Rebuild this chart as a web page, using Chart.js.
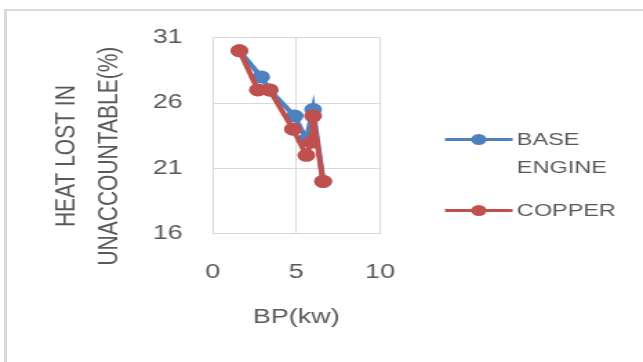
<!DOCTYPE html>
<html>
<head>
<meta charset="utf-8">
<script src="https://cdn.jsdelivr.net/npm/chart.js@4/dist/chart.umd.min.js"></script>
<style>
  html, body { margin: 0; padding: 0; background: #ffffff; overflow: hidden; }
  body { width: 643px; height: 362px; position: relative; }
  #frame {
    position: absolute; left: 4px; top: 9px; width: 700px; height: 400px;
    border-top: 2px solid #d9d9d9; border-left: 3px solid #d9d9d9;
  }
  /* the chart is laid out narrow and widened horizontally */
  #stretch {
    position: absolute; left: 0; top: 0; width: 466px; height: 362px;
    transform: scaleX(1.3798); transform-origin: 0 0;
  }
</style>
</head>
<body>
<div id="frame"></div>
<div id="stretch"><canvas id="chart" width="466" height="362"></canvas></div>
<script>
// BP (kW) against heat lost in unaccountable (%)
const seriesNames = ['BASE ENGINE', 'COPPER'];
const legendLines = [['BASE', 'ENGINE'], ['COPPER']];
const baseBP   = [1.6, 2.9, 3.4, 4.9, 5.6, 6.0, 6.6];
const baseHeat = [30, 28, 27, 25, 23.2, 25.5, 20];
const copperBP   = [1.6, 2.7, 3.4, 4.8, 5.6, 5.9, 6.0, 6.6];
const copperHeat = [30, 27, 27, 24, 22, 23, 25, 20];
const xTicks = [0, 5, 10];
const yTicks = [16, 21, 26, 31];
const xTitle = 'BP(kw)';
const yTitle = ['HEAT LOST IN', 'UNACCOUNTABLE(%)'];

const colors = ['#4f81bd', '#c0504d'];
const textColor = '#595959';
const gridColor = '#d9d9d9';
const FONT = '"Liberation Sans", Arial, sans-serif';

function toPoints(xs, ys) {
  return xs.map((x, i) => ({ x: x, y: ys[i] }));
}

// legend drawn to the right of the plot: line with a dot, then the name
const sideLegend = {
  id: 'sideLegend',
  afterDraw(chart) {
    const ctx = chart.ctx;
    const rows = [139.5, 210.5];
    ctx.save();
    chart.data.datasets.forEach((ds, i) => {
      const y = rows[i];
      ctx.strokeStyle = ds.borderColor;
      ctx.lineWidth = 3;
      ctx.beginPath();
      ctx.moveTo(322.5, y);
      ctx.lineTo(371.5, y);
      ctx.stroke();
      ctx.fillStyle = ds.backgroundColor;
      ctx.beginPath();
      ctx.arc(347, y, 5.5, 0, Math.PI * 2);
      ctx.fill();
      ctx.fillStyle = textColor;
      ctx.font = '17px ' + FONT;
      ctx.textBaseline = 'middle';
      ctx.textAlign = 'left';
      legendLines[i].forEach((line, k) => {
        ctx.fillText(line, 374.6, y + 0.5 + k * 28.5);
      });
    });
    ctx.restore();
  }
};

const pad = '       ';

function series(i, points, order) {
  return {
    label: seriesNames[i],
    data: points,
    showLine: true,
    borderColor: colors[i],
    backgroundColor: colors[i],
    borderWidth: 4,
    pointRadius: 5.5,
    pointBorderWidth: 2,
    pointBorderColor: colors[i],
    pointBackgroundColor: colors[i],
    order: order
  };
}

new Chart(document.getElementById('chart'), {
  type: 'scatter',
  data: {
    datasets: [
      series(0, toPoints(baseBP, baseHeat), 1),
      series(1, toPoints(copperBP, copperHeat), 0)
    ]
  },
  options: {
    responsive: false,
    animation: false,
    devicePixelRatio: 1,
    layout: { padding: { top: 37.7, right: 190.6, bottom: 0, left: 0 } },
    plugins: {
      legend: { display: false },
      tooltip: { enabled: false }
    },
    scales: {
      x: {
        type: 'linear',
        min: xTicks[0],
        max: xTicks[xTicks.length - 1],
        afterBuildTicks(scale) { scale.ticks = xTicks.map(v => ({ value: v })); },
        afterFit(scale) { scale.height = 128.3; },
        grid: { color: gridColor, lineWidth: 1, drawTicks: false },
        border: { display: true, color: gridColor, width: 1 },
        ticks: { padding: 27, color: textColor, font: { family: FONT, size: 19.5 } },
        title: {
          display: true, text: xTitle, color: textColor,
          font: { family: FONT, size: 19.5, lineHeight: 1.2 },
          padding: { top: 0, bottom: 32.3 }
        }
      },
      y: {
        type: 'linear',
        min: yTicks[0],
        max: yTicks[yTicks.length - 1],
        afterBuildTicks(scale) { scale.ticks = yTicks.map(v => ({ value: v })); },
        afterFit(scale) { scale.width = 154.1; },
        grid: { color: gridColor, lineWidth: 1, drawTicks: false },
        border: { display: true, color: gridColor, width: 1 },
        ticks: { padding: 21.7, color: textColor, font: { family: FONT, size: 19.5 } },
        title: {
          display: true, text: yTitle.map(t => t + pad), color: textColor,
          font: { family: FONT, size: 21, lineHeight: 31 / 21 },
          padding: { top: 33, bottom: 0 }
        }
      }
    }
  },
  plugins: [sideLegend]
});
</script>
</body>
</html>
